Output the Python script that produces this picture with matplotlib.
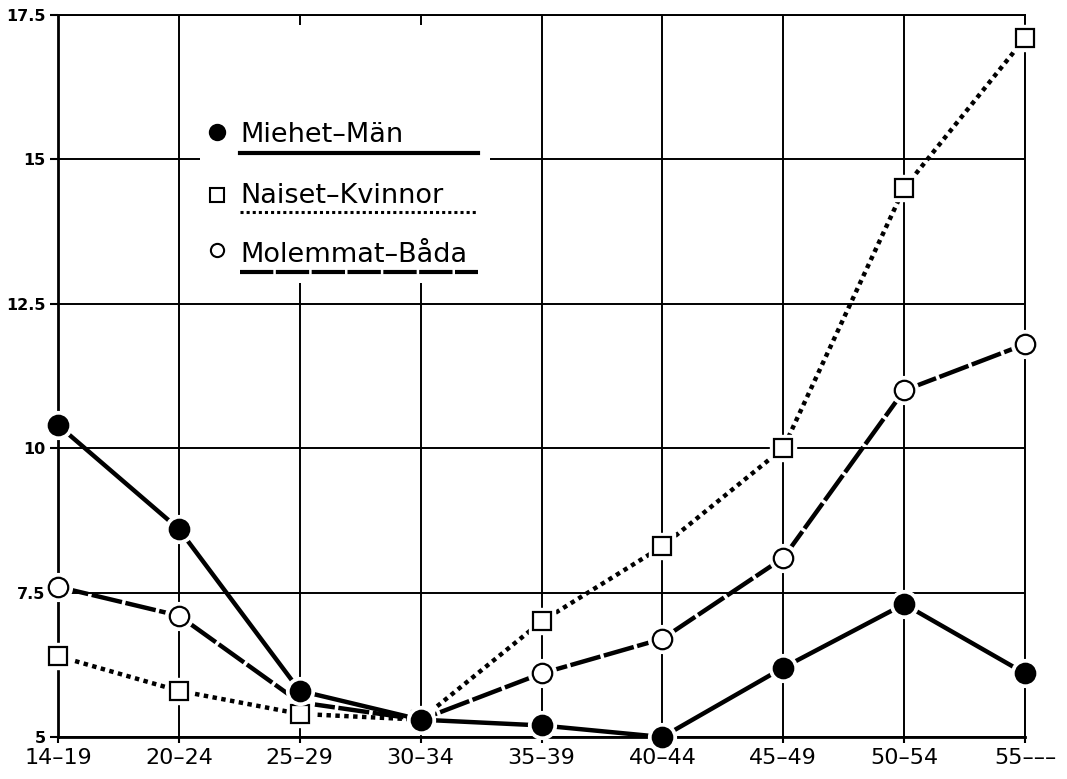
import numpy as np
import matplotlib
matplotlib.use("Agg")
import matplotlib.pyplot as plt
from matplotlib.patches import Rectangle

plt.rcParams['font.family'] = ['DejaVu Sans']

# age groups and rates
age_groups = ['14–19', '20–24', '25–29', '30–34', '35–39', '40–44', '45–49', '50–54', '55–––']
men = [10.4, 8.6, 5.8, 5.3, 5.2, 5.0, 6.2, 7.3, 6.1]
women = [6.4, 5.8, 5.4, 5.3, 7.0, 8.3, 10.0, 14.5, 17.1]
both = [7.6, 7.1, 5.6, 5.3, 6.1, 6.7, 8.1, 11.0, 11.8]

y_ticks = [5, 7.5, 10, 12.5, 15, 17.5]
y_tick_labels = ['5', '7.5', '10', '12.5', '15', '17.5']

legend_labels = ['Miehet–Män', 'Naiset–Kvinnor', 'Molemmat–Båda']

W, H = 1067, 779
fig = plt.figure(figsize=(W / 100, H / 100), dpi=100)
L, R, T, B = 58, 1025, 15, 737
ax = fig.add_axes([L / W, 1 - B / H, (R - L) / W, (B - T) / H])


def px(x, y):
    # pixel position -> axes fraction
    return (x - L) / (R - L), (B - y) / (B - T)


x = np.arange(len(age_groups))
ax.set_xlim(0, len(age_groups) - 1)
ax.set_ylim(5, 17.5)
ax.set_xticks(x)
ax.set_xticklabels(age_groups, fontsize=16)
ax.set_yticks(y_ticks)
ax.set_yticklabels(y_tick_labels, fontsize=11.5, fontweight='bold')
ax.tick_params(axis='y', direction='out', length=6, width=1.5, pad=3)
ax.tick_params(axis='x', direction='out', length=4, width=1.5, pad=4)

ax.set_axisbelow(True)
ax.grid(True, color='black', linewidth=1.4)
for side in ['left', 'bottom']:
    ax.spines[side].set_linewidth(2.0)
for side in ['top', 'right']:
    ax.spines[side].set_linewidth(1.4)

# blank area behind the key
x0, y0 = px(200, 283)
x1, y1 = px(490, 25)
ax.add_patch(Rectangle((x0, y0), x1 - x0, y1 - y0, transform=ax.transAxes,
                       facecolor='white', edgecolor='none', zorder=1))

series = [
    (both, (0, (7, 0.8)), 'o', 'white'),
    (women, (0, (1, 1)), 's', 'white'),
    (men, '-', 'o', 'black'),
]

for vals, ls, mk, fc in series:
    ax.plot(x, vals, color='black', linewidth=3.2, linestyle=ls,
            dash_capstyle='butt', zorder=2, clip_on=False)

z = 3
for vals, ls, mk, fc in series:
    ms = 14 if mk == 'o' else 13
    ax.plot(x, vals, linestyle='none', marker=mk, markersize=ms + 6,
            markerfacecolor='white', markeredgecolor='white', zorder=z, clip_on=False)
    ax.plot(x, vals, linestyle='none', marker=mk, markersize=ms,
            markerfacecolor=fc, markeredgecolor='black', markeredgewidth=1.6,
            zorder=z + 1, clip_on=False)
    z += 2

# key
key = [
    (132, 142, 153, 'o', 'black', '-', 11, 3.0),
    (195, 203, 212, 's', 'white', (0, (1, 1)), 9.5, 2.2),
    (250, 262, 272, 'o', 'white', (0, (8, 0.6)), 9.5, 3.0),
]
for (my, ty, uy, mk, fc, ls, ms, lw), label in zip(key, legend_labels):
    mx, myf = px(217, my)
    ax.plot([mx], [myf], marker=mk, markersize=ms, markerfacecolor=fc,
            markeredgecolor='black', markeredgewidth=1.5, transform=ax.transAxes,
            zorder=10, clip_on=False)
    tx, tyf = px(240, ty)
    ax.text(tx, tyf, label, transform=ax.transAxes, fontsize=19.5,
            ha='left', va='baseline', zorder=10)
    ux0, uyf = px(240, uy)
    ux1, _ = px(478, uy)
    ax.plot([ux0, ux1], [uyf, uyf], color='black', linewidth=lw, linestyle=ls,
            dash_capstyle='butt', transform=ax.transAxes, zorder=10)

fig.savefig('out.png', dpi=100, facecolor='white')
